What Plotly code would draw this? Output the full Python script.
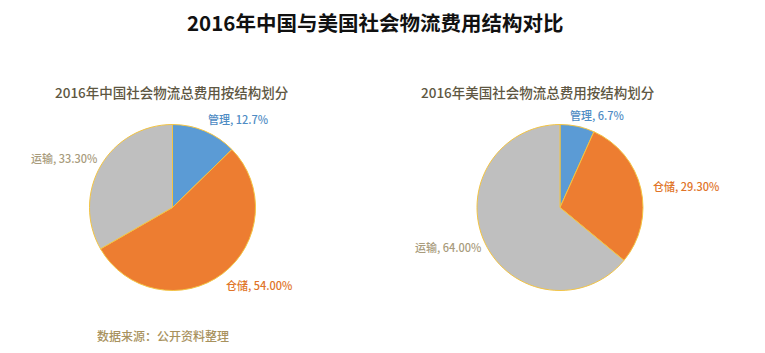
import plotly.graph_objects as go

categories = ["管理", "仓储", "运输"]
china_values = [12.7, 54.00, 33.30]
us_values = [6.7, 29.30, 64.00]
china_fmt = ["12.7%", "54.00%", "33.30%"]
us_fmt = ["6.7%", "29.30%", "64.00%"]

title = "2016年中国与美国社会物流费用结构对比"
china_title = "2016年中国社会物流总费用按结构划分"
us_title = "2016年美国社会物流总费用按结构划分"
source = "数据来源：公开资料整理"

colors = ["#5B9BD5", "#ED7D31", "#BFBFBF"]
label_colors = ["#4F8CC4", "#E07428", "#A89B7C"]
FONT = "Noto Sans CJK SC, Noto Sans, sans-serif"
W, H = 765, 353

fig = go.Figure()

def px_dom(x0, x1, y0, y1):
    return dict(x=[x0 / W, x1 / W], y=[1 - y1 / H, 1 - y0 / H])

for vals, dom in [(china_values, px_dom(89.5, 255.5, 124.5, 290.5)),
                  (us_values, px_dom(477, 643, 124.5, 290.5))]:
    fig.add_trace(go.Pie(
        labels=categories, values=vals, sort=False, direction="clockwise",
        rotation=0, textinfo="none", hoverinfo="label+percent",
        marker=dict(colors=colors, line=dict(color="#F3C443", width=1)),
        domain=dom, showlegend=False,
    ))

annotations = []
annotations.append(dict(x=375, y=22, text=title,
                        font=dict(size=20.5, color="#111111", weight=700)))
annotations.append(dict(x=172, y=92, text=china_title,
                        font=dict(size=13.5, color="#5E5742", weight=500)))
annotations.append(dict(x=538, y=92, text=us_title,
                        font=dict(size=13.5, color="#5E5742", weight=500)))

china_pos = [(238, 119), (259, 285), (64, 158)]
us_pos = [(597, 115), (686, 186), (448, 247)]
for pos_list, fmts in [(china_pos, china_fmt), (us_pos, us_fmt)]:
    for i, (px, py) in enumerate(pos_list):
        annotations.append(dict(x=px, y=py, text=f"{categories[i]}, {fmts[i]}",
                                font=dict(size=11, color=label_colors[i], weight=500)))

annotations.append(dict(x=163, y=335, text=source,
                        font=dict(size=12, color="#A8925E", weight=500)))

for a in annotations:
    a["x"] = a["x"] / W
    a["y"] = 1 - a["y"] / H
    a.update(xref="paper", yref="paper", showarrow=False,
             xanchor="center", yanchor="middle")
    a["font"]["family"] = FONT

fig.update_layout(
    width=W, height=H, margin=dict(l=0, r=0, t=0, b=0),
    paper_bgcolor="white", plot_bgcolor="white",
    annotations=annotations,
)

fig.write_html("out.html")
